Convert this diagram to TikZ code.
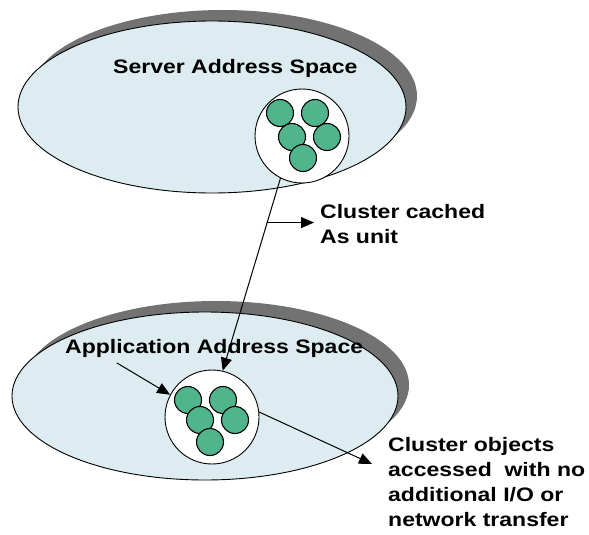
\documentclass[tikz,border=0pt]{standalone}
\usepackage{fontspec}
\setmainfont{Liberation Sans}[FakeStretch=1.18]
\usepackage{tikz}
\usetikzlibrary{arrows.meta,calc}
\definecolor{spacefill}{HTML}{DDECF0}
\definecolor{shadowgray}{HTML}{727272}
\definecolor{objgreen}{HTML}{50B48C}
\tikzset{
  every picture/.style={
    line join=round,
    line cap=round,
    >={Triangle[length=13pt,width=11pt]},  % big filled heads
  },
  addrspace/.style={draw=black, fill=spacefill, line width=0.9pt},
  spaceshadow/.style={fill=shadowgray},
  cluster/.style={circle, draw, fill=white, line width=0.9pt,
    minimum size=94pt, inner sep=0pt},
  objdot/.style={circle, draw, fill=objgreen, line width=1.1pt,
    minimum size=27pt, inner sep=0pt},
  spacelabel/.style={font=\bfseries\fontsize{19.5}{25}\selectfont, inner sep=0pt},
  notetext/.style={font=\bfseries\fontsize{19.5}{25}\selectfont, align=left, inner sep=0pt},
  flow/.style={line width=1pt},
}

\begin{document}
\begin{tikzpicture}[x=1pt, y=-1pt]
    \useasboundingbox (0,0) rectangle (589,535);

    % Server space
    \fill[spaceshadow] ([shift={(11,-11)}]212,107) ellipse [x radius=194, y radius=86];
    \draw[addrspace] (212,107) ellipse [x radius=194, y radius=86];
    \node[spacelabel, anchor=base west] (srvlabel) at (113,74) {Server Address Space};

    % Application space
    \fill[spaceshadow] ([shift={(11,-11)}]205,396) ellipse [x radius=193, y radius=84];
    \draw[addrspace] (205,396) ellipse [x radius=193, y radius=84];
    \node[spacelabel, anchor=base west] (applabel) at (65,353) {Application Address Space};

    % Clusters and their objects
    \node[cluster] (topclust) at (302,136) {};
    \foreach \i/\dx/\dy in {1/-22/-23, 2/13/-23, 3/-10/1, 4/25/1, 5/1/22}
        \node[objdot] (s\i) at ([shift={(\dx,\dy)}]topclust.center) {};

    \node[cluster] (botclust) at (212,417) {};
    \foreach \i/\dx/\dy in {1/-24/-17, 2/11/-17, 3/-12/3, 4/23/3, 5/-2/25}
        \node[objdot] (a\i) at ([shift={(\dx,\dy)}]botclust.center) {};

    % Notes
    \node[notetext, anchor=west] (cachenote) at (320,224) {Cluster cached\\As unit};
    \node[notetext, anchor=west] (objnote) at (388,482)
        {Cluster objects\\accessed\ \ with no\\additional I/O or\\network transfer};

    % Arrows
    \draw[flow, ->] (topclust.243) -- (botclust.77)
        coordinate[pos=0.23] (mid);
    \draw[flow, ->] (mid) -- ([xshift=-6pt]mid -| cachenote.west);
    \coordinate (appfrom) at (117,363);
    \draw[flow, ->] (appfrom) -- (botclust.152);
    \coordinate (objtip) at (372,464);
    \draw[flow, ->] (botclust.6) -- (objtip);
\end{tikzpicture}
\end{document}
